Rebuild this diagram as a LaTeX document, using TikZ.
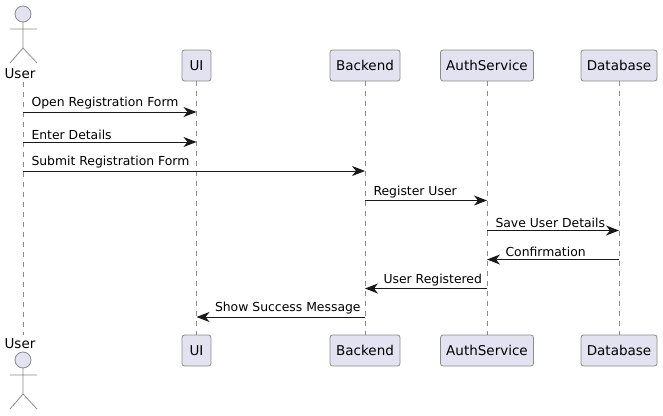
\documentclass[tikz,border=0pt]{standalone}
\usepackage{fontspec}
\setmainfont{DejaVu Sans}
\usetikzlibrary{arrows.meta}
\definecolor{partfill}{HTML}{E2E2F0}
\definecolor{partline}{HTML}{8C8C8C}
\tikzset{
    part/.style={draw=partline, fill=partfill, rounded corners=2.5pt, line width=0.8pt, minimum height=31pt, inner xsep=0pt, font=\fontsize{13.5}{16}\selectfont},
    life/.style={draw=partline, dash pattern=on 5pt off 5pt, line width=0.7pt},
    stick/.style={draw=partline, line width=0.8pt},
    msg/.style={draw=black!90, line width=1pt, -{Stealth[length=13pt, width=10pt, inset=4pt]}},
    msgtext/.style={font=\fontsize{12.4}{14}\selectfont, inner sep=0pt, above right, yshift=2pt},
    actortext/.style={font=\fontsize{13.5}{16}\selectfont, inner sep=0pt}
}
\begin{document}
\begin{tikzpicture}[x=1pt, y=-1pt]
        \useasboundingbox (0,0) rectangle (663,415);

        % top row
        \node [part, minimum width=29pt] (ui) at (196.5,65.5) {UI};
        \node [part, minimum width=70pt] (backend) at (365,65.5) {Backend};
        \node [part, minimum width=93pt] (auth) at (487,65.5) {AuthService};
        \node [part, minimum width=76pt] (db) at (619,65.5) {Database};
        \node [actortext] (user) at (20,74) {User};

        % bottom row
        \node [part, minimum width=29pt] (uib) at (196.5,350.5) {UI};
        \node [part, minimum width=70pt] (backendb) at (365,350.5) {Backend};
        \node [part, minimum width=93pt] (authb) at (487,350.5) {AuthService};
        \node [part, minimum width=76pt] (dbb) at (619,350.5) {Database};
        \node [actortext] (userb) at (20,344) {User};

        % lifelines
        \coordinate (usertop) at (23,82);
        \coordinate (userbot) at (23,335);
        \draw [life] (usertop) -- (userbot);
        \draw [life] (ui) -- (uib);
        \draw [life] (backend) -- (backendb);
        \draw [life] (auth) -- (authb);
        \draw [life] (db) -- (dbb);

        % actors
        \draw [stick, fill=partfill] (23,14) circle (8);
        \draw [stick] (23,22) -- (23,48) (10,29) -- (37,29) (10,63) -- (23,48) -- (37,63);
        \draw [stick, fill=partfill] (23,360) circle (8);
        \draw [stick] (23,368) -- (23,394) (10,375) -- (37,375) (10,409) -- (23,394) -- (37,409);

        % messages
        \coordinate (m1a) at (23,112);
        \coordinate (m1b) at (196.5,112);
        \coordinate (m2a) at (23,142);
        \coordinate (m2b) at (196.5,142);
        \coordinate (m3a) at (23,171);
        \coordinate (m3b) at (365,171);
        \coordinate (m4a) at (365,200.5);
        \coordinate (m4b) at (487,200.5);
        \coordinate (m5a) at (487,230.5);
        \coordinate (m5b) at (619,230.5);
        \coordinate (m6a) at (619,259.5);
        \coordinate (m6b) at (487,259.5);
        \coordinate (m7a) at (487,288.5);
        \coordinate (m7b) at (365,288.5);
        \coordinate (m8a) at (365,317);
        \coordinate (m8b) at (196.5,317);
        \draw [msg] (m1a) -- node [msgtext, pos=0, xshift=8pt] (t1) {Open Registration Form} (m1b);
        \draw [msg] (m2a) -- node [msgtext, pos=0, xshift=8pt] (t2) {Enter Details} (m2b);
        \draw [msg] (m3a) -- node [msgtext, pos=0, xshift=8pt] (t3) {Submit Registration Form} (m3b);
        \draw [msg] (m4a) -- node [msgtext, pos=0, xshift=8pt] (t4) {Register User} (m4b);
        \draw [msg] (m5a) -- node [msgtext, pos=0, xshift=8pt] (t5) {Save User Details} (m5b);
        \draw [msg] (m6a) -- node [msgtext, pos=1, xshift=18pt] (t6) {Confirmation} (m6b);
        \draw [msg] (m7a) -- node [msgtext, pos=1, xshift=18pt] (t7) {User Registered} (m7b);
        \draw [msg] (m8a) -- node [msgtext, pos=1, xshift=18pt] (t8) {Show Success Message} (m8b);
    \end{tikzpicture}
\end{document}
